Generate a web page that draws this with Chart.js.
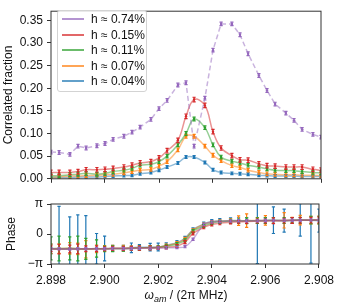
<!DOCTYPE html>
<html>
<head>
<meta charset="utf-8">
<script src="https://cdn.jsdelivr.net/npm/chart.js@4.4.0/dist/chart.umd.min.js"></script>
<style>
body { margin: 0; background: #fff; font-family: "Liberation Sans", Arial, sans-serif; }
#wrap { position: relative; width: 339px; height: 305px; overflow: hidden; }
canvas { position: absolute; left: 0; }
#topChart { top: 0; }
#bottomChart { top: 190px; }
#legend { position: absolute; left: 57px; top: 10px; width: 90px; height: 82px; border: 1px solid #d3d3d3; border-radius: 3px; background: rgba(255,255,255,0.85); box-sizing: border-box; }
.row { position: absolute; left: 0; height: 14px; font-size: 12px; line-height: 14px; color: #111; white-space: nowrap; }
.swatch { position: absolute; left: 4px; top: 6px; width: 22px; height: 2px; }
.txt { position: absolute; left: 33px; top: 0; }
#xtitle { position: absolute; left: 51px; width: 270px; top: 288px; text-align: center; font-size: 12px; color: #111; }
#xtitle sub { font-size: 9px; }
</style>
</head>
<body>
<div id="wrap">
  <canvas id="topChart" width="339" height="190"></canvas>
  <canvas id="bottomChart" width="339" height="115"></canvas>
  <div id="legend"></div>
  <div id="xtitle"><i>ω</i><sub><i>am</i></sub> / (2π MHz)</div>
</div>
<script>
// drive frequency (2π MHz)
const freqs = [2.8980, 2.8983, 2.8987, 2.8990, 2.8993, 2.8997, 2.9000, 2.9003, 2.9007, 2.9010, 2.9013,
               2.9017, 2.9020, 2.9023, 2.9027, 2.9030, 2.9033, 2.9037, 2.9040, 2.9043, 2.9047,
               2.9050, 2.9053, 2.9057, 2.9060, 2.9063, 2.9067, 2.9070, 2.9073, 2.9077, 2.9080];
const labels = ['h ≈ 0.74%', 'h ≈ 0.15%', 'h ≈ 0.11%', 'h ≈ 0.07%', 'h ≈ 0.04%'];
const colors = ['#9467bd', '#d62728', '#2ca02c', '#ff7f0e', '#1f77b4'];

const freqTicks = [2.898, 2.900, 2.902, 2.904, 2.906, 2.908];
const fracTicks = [0, 0.05, 0.10, 0.15, 0.20, 0.25, 0.30, 0.35];
const phaseTicks = [-Math.PI, 0, Math.PI];
const phaseTickLabels = ['−π', '0', 'π'];

// correlated fraction
const fracPurple = [0.059, 0.058, 0.054, 0.072, 0.068, 0.073, 0.078, 0.087, 0.094, 0.103, 0.114, 0.131, 0.155, 0.173, 0.207, 0.212,
                    0.072, 0.178, 0.284, 0.342, 0.342, 0.318, 0.276, 0.228, 0.195, 0.165, 0.145, 0.129, 0.109, 0.098, 0.092];
const fracRed = [0.014, 0.014, 0.014, 0.016, 0.020, 0.020, 0.021, 0.023, 0.026, 0.030, 0.035, 0.038, 0.046, 0.062, 0.085, 0.138,
                 0.175, 0.162, 0.104, 0.068, 0.051, 0.042, 0.041, 0.033, 0.029, 0.028, 0.026, 0.026, 0.026, 0.021, 0.019];
const fracGreen = [0.007, 0.007, 0.009, 0.010, 0.012, 0.010, 0.012, 0.016, 0.019, 0.023, 0.030, 0.032, 0.038, 0.050, 0.075, 0.100,
                   0.132, 0.113, 0.075, 0.048, 0.039, 0.035, 0.030, 0.026, 0.022, 0.019, 0.018, 0.018, 0.016, 0.014, 0.013];
const fracOrange = [0.004, 0.004, 0.006, 0.006, 0.007, 0.008, 0.009, 0.010, 0.013, 0.016, 0.019, 0.021, 0.028, 0.038, 0.064, 0.094,
                    0.094, 0.072, 0.052, 0.040, 0.029, 0.025, 0.019, 0.014, 0.011, 0.010, 0.009, 0.009, 0.008, 0.008, 0.007];
const fracBlue = [0.003, 0.003, 0.003, 0.004, 0.004, 0.004, 0.005, 0.006, 0.007, 0.008, 0.011, 0.014, 0.019, 0.026, 0.035, 0.048,
                  0.048, 0.036, 0.020, 0.014, 0.012, 0.011, 0.010, 0.008, 0.007, 0.006, 0.006, 0.006, 0.005, 0.005, 0.005];
const fracErr = [0.004, 0.005, 0.004, 0.004, 0.003];

// phase (rad)
const phasePurple = [-1.55, -1.55, -1.56, -1.55, -1.55, -1.54, -1.54, -1.53, -1.52, -1.52, -1.50, -1.48, -1.46, -1.45, -1.42, -1.32,
                     -0.56, 1.00, 1.25, 1.32, 1.36, 1.38, 1.40, 1.40, 1.42, 1.42, 1.43, 1.44, 1.45, 1.46, 1.47];
const phaseRed = [-1.55, -1.58, -1.57, -1.56, -1.55, -1.55, -1.54, -1.53, -1.52, -1.50, -1.48, -1.46, -1.45, -1.40, -1.25, -0.85,
                  0.05, 0.70, 1.00, 1.12, 1.22, 1.28, 1.32, 1.35, 1.37, 1.38, 1.40, 1.42, 1.43, 1.45, 1.47];
const phaseGreen = [-1.50, -1.52, -1.50, -1.52, -1.55, -1.52, -1.56, -1.55, -1.54, -1.50, -1.46, -1.44, -1.40, -1.28, -1.05, -0.65,
                    0.30, 0.85, 1.15, 1.28, 1.34, 1.36, 1.38, 1.40, 1.40, 1.42, 1.42, 1.43, 1.44, 1.45, 1.46];
const phaseOrange = [-1.55, -1.52, -1.50, -1.55, -1.60, -1.55, -1.52, -1.50, -1.48, -1.46, -1.44, -1.42, -1.38, -1.22, -0.95, -0.50,
                     0.40, 1.00, 1.25, 1.34, 1.38, 1.40, 1.40, 1.41, 1.42, 1.42, 1.43, 1.44, 1.45, 1.46, 1.47];
const phaseBlue = [-1.55, -1.60, -1.60, -1.60, -1.58, -1.55, -1.52, -1.50, -1.48, -1.44, -1.40, -1.38, -1.36, -1.18, -0.90, -0.45,
                   0.45, 1.05, 1.30, 1.36, 1.40, 1.40, 1.40, 1.40, 1.42, 1.45, 1.40, 1.43, 1.48, 1.45, 1.40];
const phaseErrPurple = [0.12, 0.12, 0.12, 0.12, 0.12, 0.12, 0.12, 0.12, 0.12, 0.12, 0.12, 0.12, 0.12, 0.12, 0.12, 0.12,
                        0.12, 0.12, 0.12, 0.12, 0.12, 0.12, 0.12, 0.12, 0.12, 0.12, 0.12, 0.12, 0.12, 0.12, 0.12];
const phaseErrRed = [0.3, 0.5, 0.4, 0.5, 0.3, 0.3, 0.2, 0.2, 0.2, 0.2, 0.2, 0.2, 0.15, 0.15, 0.15, 0.15,
                     0.15, 0.15, 0.15, 0.15, 0.15, 0.15, 0.2, 0.2, 0.2, 0.3, 0.25, 0.3, 0.3, 0.3, 0.3];
const phaseErrGreen = [1.2, 1.3, 1.2, 1.3, 1.1, 0.9, 0.3, 0.3, 0.25, 0.2, 0.2, 0.2, 0.15, 0.15, 0.15, 0.15,
                       0.15, 0.15, 0.15, 0.15, 0.2, 0.2, 0.3, 0.3, 0.3, 0.3, 0.3, 0.3, 0.3, 0.4, 0.4];
const phaseErrOrange = [0.5, 0.5, 0.6, 0.6, 0.9, 0.4, 0.3, 0.3, 0.3, 0.2, 0.2, 0.2, 0.15, 0.15, 0.15, 0.15,
                        0.15, 0.15, 0.15, 0.15, 0.2, 0.5, 0.7, 0.3, 0.5, 0.3, 0.8, 0.3, 0.5, 0.4, 0.4];
const phaseErrBlue = [0.5, 4.5, 3.4, 3.6, 3.5, 1.6, 1.3, 0.3, 0.3, 0.5, 0.3, 0.4, 0.4, 0.25, 0.2, 0.2,
                      0.2, 0.2, 0.2, 0.25, 0.3, 0.3, 0.3, 4.5, 0.3, 1.4, 1.2, 0.3, 1.7, 4.5, 1.2];

const fracSeries = [fracPurple, fracRed, fracGreen, fracOrange, fracBlue];
const phaseSeries = [phasePurple, phaseRed, phaseGreen, phaseOrange, phaseBlue];
const phaseErrs = [phaseErrPurple, phaseErrRed, phaseErrGreen, phaseErrOrange, phaseErrBlue];

const FONT = { family: '"Liberation Sans", Arial, sans-serif', size: 12 };

function fade(hex, a) {
    const n = parseInt(hex.slice(1), 16);
    return `rgba(${n >> 16}, ${(n >> 8) & 255}, ${n & 255}, ${a})`;
}

// vertical error bars with caps, drawn through the chart scales
const errorBars = {
    id: 'errorBars',
    afterDatasetsDraw(chart) {
        const { ctx, chartArea: a, scales } = chart;
        ctx.save();
        ctx.beginPath();
        ctx.rect(a.left, a.top, a.right - a.left, a.bottom - a.top);
        ctx.clip();
        ctx.lineWidth = 1.2;
        const sets = chart.data.datasets;
        for (let i = sets.length - 1; i >= 0; i--) {
            const ds = sets[i];
            ctx.strokeStyle = ds.pointBackgroundColor;
            ds.data.forEach((p, j) => {
                const e = Array.isArray(ds.errs) ? ds.errs[j] : ds.errs;
                const x = scales.x.getPixelForValue(p.x);
                const y1 = scales.y.getPixelForValue(p.y - e);
                const y2 = scales.y.getPixelForValue(p.y + e);
                ctx.beginPath();
                ctx.moveTo(x, y1); ctx.lineTo(x, y2);
                ctx.moveTo(x - 1.6, y1); ctx.lineTo(x + 1.6, y1);
                ctx.moveTo(x - 1.6, y2); ctx.lineTo(x + 1.6, y2);
                ctx.stroke();
            });
        }
        ctx.restore();
    }
};

const frame = {
    id: 'frame',
    afterDraw(chart) {
        const { ctx, chartArea: a } = chart;
        ctx.save();
        ctx.strokeStyle = '#333';
        ctx.lineWidth = 1;
        ctx.strokeRect(a.left, a.top, a.right - a.left, a.bottom - a.top);
        ctx.restore();
    }
};

function xScale(showLabels, height) {
    return {
        type: 'linear', min: 2.898, max: 2.908,
        afterBuildTicks: s => { s.ticks = freqTicks.map(v => ({ value: v })); },
        afterFit: s => { s.height = height; },
        ticks: { display: showLabels, font: FONT, color: '#111', padding: 5, maxRotation: 0, callback: v => v.toFixed(3) },
        grid: { drawOnChartArea: false, drawTicks: true, tickLength: 4, color: '#333' },
        border: { display: false }
    };
}

function buildSets(series, errs, dashFirst) {
    return series.map((vals, i) => ({
        label: labels[i],
        data: freqs.map((x, j) => ({ x: x, y: vals[j] })),
        errs: errs[i],
        borderColor: fade(colors[i], 0.5),
        borderWidth: 1.5,
        borderDash: (dashFirst && i === 0) ? [5, 3] : [],
        tension: (dashFirst && i === 0) ? 0 : 0.4,
        pointRadius: 1.2,
        pointBorderWidth: 0,
        pointBackgroundColor: colors[i]
    }));
}

new Chart(document.getElementById('topChart'), {
    type: 'line',
    data: { datasets: buildSets(fracSeries, fracErr, true) },
    options: {
        responsive: false, animation: false, devicePixelRatio: 1,
        layout: { padding: { left: 0, right: 18, top: 4, bottom: 0 } },
        plugins: { legend: { display: false }, tooltip: { enabled: false } },
        scales: {
            x: xScale(false, 5),
            y: {
                min: 0, max: 0.37,
                afterBuildTicks: s => { s.ticks = fracTicks.map(v => ({ value: v })); },
                afterFit: s => { s.width = 51; },
                ticks: { font: FONT, color: '#111', padding: 4, callback: v => v.toFixed(2) },
                grid: { drawOnChartArea: false, drawTicks: true, tickLength: 4, color: '#333' },
                border: { display: false },
                title: { display: true, text: 'Correlated fraction', font: FONT, color: '#111', padding: { top: 1, bottom: 0 } }
            }
        }
    },
    plugins: [errorBars, frame]
});

new Chart(document.getElementById('bottomChart'), {
    type: 'line',
    data: { datasets: buildSets(phaseSeries, phaseErrs, false) },
    options: {
        responsive: false, animation: false, devicePixelRatio: 1,
        layout: { padding: { left: 0, right: 18, top: 14, bottom: 0 } },
        plugins: { legend: { display: false }, tooltip: { enabled: false } },
        scales: {
            x: xScale(true, 41),
            y: {
                min: -Math.PI, max: Math.PI,
                afterBuildTicks: s => { s.ticks = phaseTicks.map(v => ({ value: v })); },
                afterFit: s => { s.width = 51; },
                ticks: { font: FONT, color: '#111', padding: 4, callback: (v, i) => phaseTickLabels[i] },
                grid: { drawOnChartArea: false, drawTicks: true, tickLength: 4, color: '#333' },
                border: { display: false },
                title: { display: true, text: 'Phase', font: FONT, color: '#111', padding: { top: 4.5, bottom: 0 } }
            }
        }
    },
    plugins: [errorBars, frame]
});

// legend inside the top panel
const legend = document.getElementById('legend');
labels.forEach((name, i) => {
    const row = document.createElement('div');
    row.className = 'row';
    row.style.top = Math.round(1.3 + 15.4 * i) + 'px';
    row.innerHTML = `<span class="swatch" style="background:${fade(colors[i], 0.7)}"></span><span class="txt">${name}</span>`;
    legend.appendChild(row);
});
</script>
</body>
</html>
